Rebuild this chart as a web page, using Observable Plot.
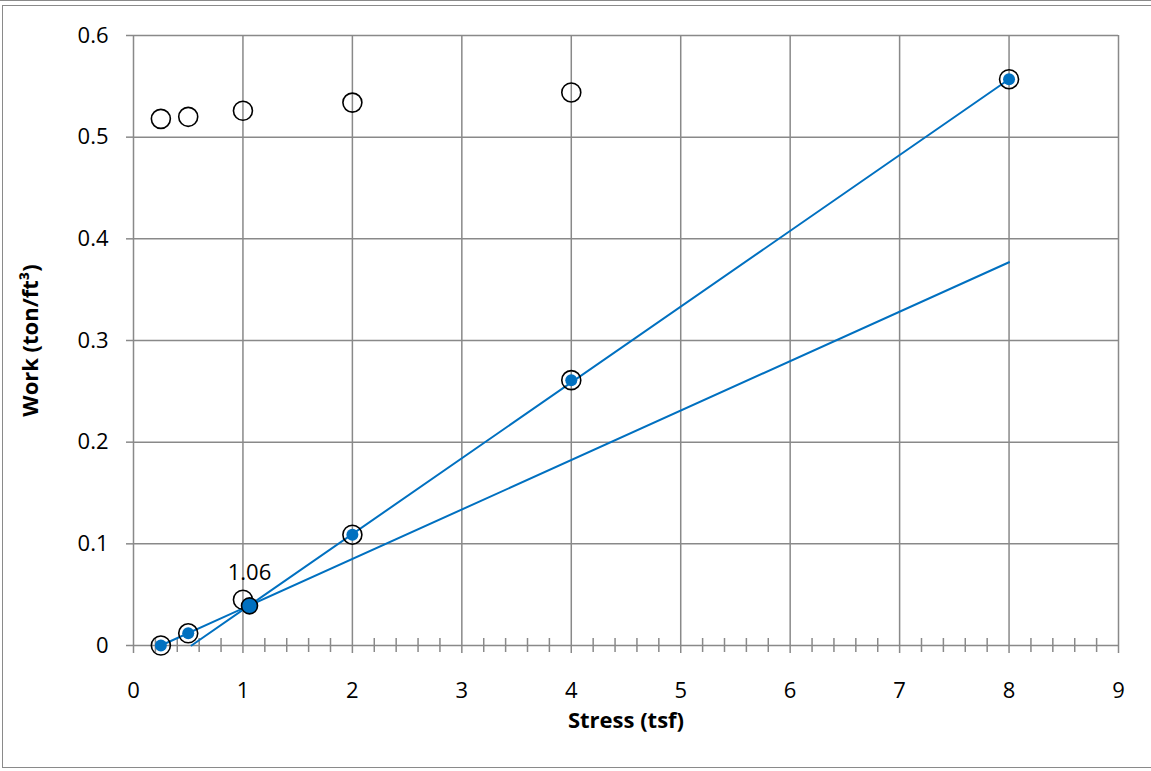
<!DOCTYPE html>
<html>
<head>
<meta charset="utf-8">
<script src="https://cdn.jsdelivr.net/npm/d3@7"></script>
<script src="https://cdn.jsdelivr.net/npm/@observablehq/plot@0.6"></script>
<style>
  html, body { margin: 0; padding: 0; background: #fff; }
  #wrap { position: relative; width: 1151px; height: 771px; overflow: hidden; }
  #frame { position: absolute; left: 2px; top: 5px; width: 1160px; height: 763px; border: 1.5px solid #8a8a8a; box-sizing: border-box; pointer-events: none; }
  #topline { position: absolute; left: 0; top: 0; width: 1151px; height: 0; border-top: 1.5px solid #8a8a8a; pointer-events: none; }
</style>
</head>
<body>
<div id="wrap"><div id="topline"></div><div id="frame"></div></div>
<script>
// Data
const xTicks = [0, 1, 2, 3, 4, 5, 6, 7, 8, 9];
const xTickLabels = ["0", "1", "2", "3", "4", "5", "6", "7", "8", "9"];
const xMinorTicks = [0.2,0.4,0.6,0.8,1.2,1.4,1.6,1.8,2.2,2.4,2.6,2.8,3.2,3.4,3.6,3.8,4.2,4.4,4.6,4.8,5.2,5.4,5.6,5.8,6.2,6.4,6.6,6.8,7.2,7.4,7.6,7.8,8.2,8.4,8.6,8.8];
const yTicks = [0, 0.1, 0.2, 0.3, 0.4, 0.5, 0.6];
const yTickLabels = ["0", "0.1", "0.2", "0.3", "0.4", "0.5", "0.6"];

// Upper open circles
const upperStress = [0.25, 0.5, 1, 2, 4];
const upperWork = [0.518, 0.520, 0.526, 0.534, 0.544];

// Lower open circles
const lowerStress = [0.25, 0.5, 1, 2, 4, 8];
const lowerWork = [0, 0.012, 0.045, 0.109, 0.261, 0.557];

// Filled blue points
const blueStress = [0.25, 0.5, 2, 4, 8];
const blueWork = [0, 0.012, 0.109, 0.261, 0.557];

// Intersection point
const interStress = [1.06];
const interWork = [0.039];
const interLabel = ["1.06"];

// Fitted lines
const line1Stress = [0.25, 8];
const line1Work = [0, 0.377];
const line2Stress = [0.53, 8];
const line2Work = [0, 0.557];

const zip = (xs, ys) => xs.map((x, i) => ({x, y: ys[i]}));
const upper = zip(upperStress, upperWork);
const lower = zip(lowerStress, lowerWork);
const blue = zip(blueStress, blueWork);
const inter = interStress.map((x, i) => ({x, y: interWork[i], label: interLabel[i]}));
const line1 = zip(line1Stress, line1Work);
const line2 = zip(line2Stress, line2Work);
const xLab = xTicks.map((v, i) => ({v, t: xTickLabels[i]}));
const yLab = yTicks.map((v, i) => ({v, t: yTickLabels[i]}));

const gridColor = "#898989";
const blueColor = "#0070C0";
const font = "'Open Sans', Lato, sans-serif";

const chart = Plot.plot({
  width: 1151,
  height: 771,
  marginLeft: 133,
  marginRight: 33,
  marginTop: 35,
  marginBottom: 126,
  x: {domain: [0, 9]},
  y: {domain: [0, 0.6]},
  style: {fontFamily: font, fontSize: "22px", color: "#000", background: "transparent", overflow: "visible"},
  marks: [
    Plot.gridX(xTicks, {stroke: gridColor, strokeOpacity: 1, strokeWidth: 1.5}),
    Plot.gridY(yTicks, {stroke: gridColor, strokeOpacity: 1, strokeWidth: 1.5}),
    Plot.axisX({ticks: xMinorTicks, tickSize: 14, dy: -7, tickFormat: () => "", label: null, stroke: gridColor, strokeWidth: 1.5}),
    Plot.axisX({ticks: xTicks, tickSize: 8, tickFormat: () => "", label: null, stroke: gridColor, strokeWidth: 1.5}),
    Plot.axisY({ticks: yTicks, tickSize: 7, tickFormat: () => "", label: null, stroke: gridColor, strokeWidth: 1.5}),
    Plot.text(xLab, {x: "v", frameAnchor: "bottom", text: "t", dy: 45, lineAnchor: "middle", fontSize: 22, fill: "#000"}),
    Plot.text(yLab, {y: "v", frameAnchor: "left", text: "t", textAnchor: "end", dx: -25, fontSize: 22, fill: "#000"}),
    Plot.line(line1, {x: "x", y: "y", stroke: blueColor, strokeWidth: 2}),
    Plot.line(line2, {x: "x", y: "y", stroke: blueColor, strokeWidth: 2}),
    Plot.dot(upper, {x: "x", y: "y", r: 9.5, stroke: "#000", strokeWidth: 1.6, fill: "none"}),
    Plot.dot(lower, {x: "x", y: "y", r: 9.5, stroke: "#000", strokeWidth: 1.6, fill: "none"}),
    Plot.dot(blue, {x: "x", y: "y", r: 6, fill: blueColor, stroke: "none"}),
    Plot.dot(inter, {x: "x", y: "y", r: 8, fill: blueColor, stroke: "#000", strokeWidth: 1.6}),
    Plot.text(inter, {x: "x", y: "y", text: "label", dy: -33, fontSize: 22, fill: "#000"}),
    Plot.text(["Stress (tsf)"], {frameAnchor: "bottom", dy: 75, lineAnchor: "middle", fontWeight: "bold", fontSize: 22, fill: "#000"}),
    Plot.text(["Work (ton/ft³)"], {frameAnchor: "left", rotate: -90, dx: -103, textAnchor: "middle", lineAnchor: "middle", fontWeight: "bold", fontSize: 22, fill: "#000"})
  ]
});
chart.style.position = "absolute";
chart.style.left = "0px";
chart.style.top = "0px";
document.getElementById("wrap").appendChild(chart);
</script>
</body>
</html>
